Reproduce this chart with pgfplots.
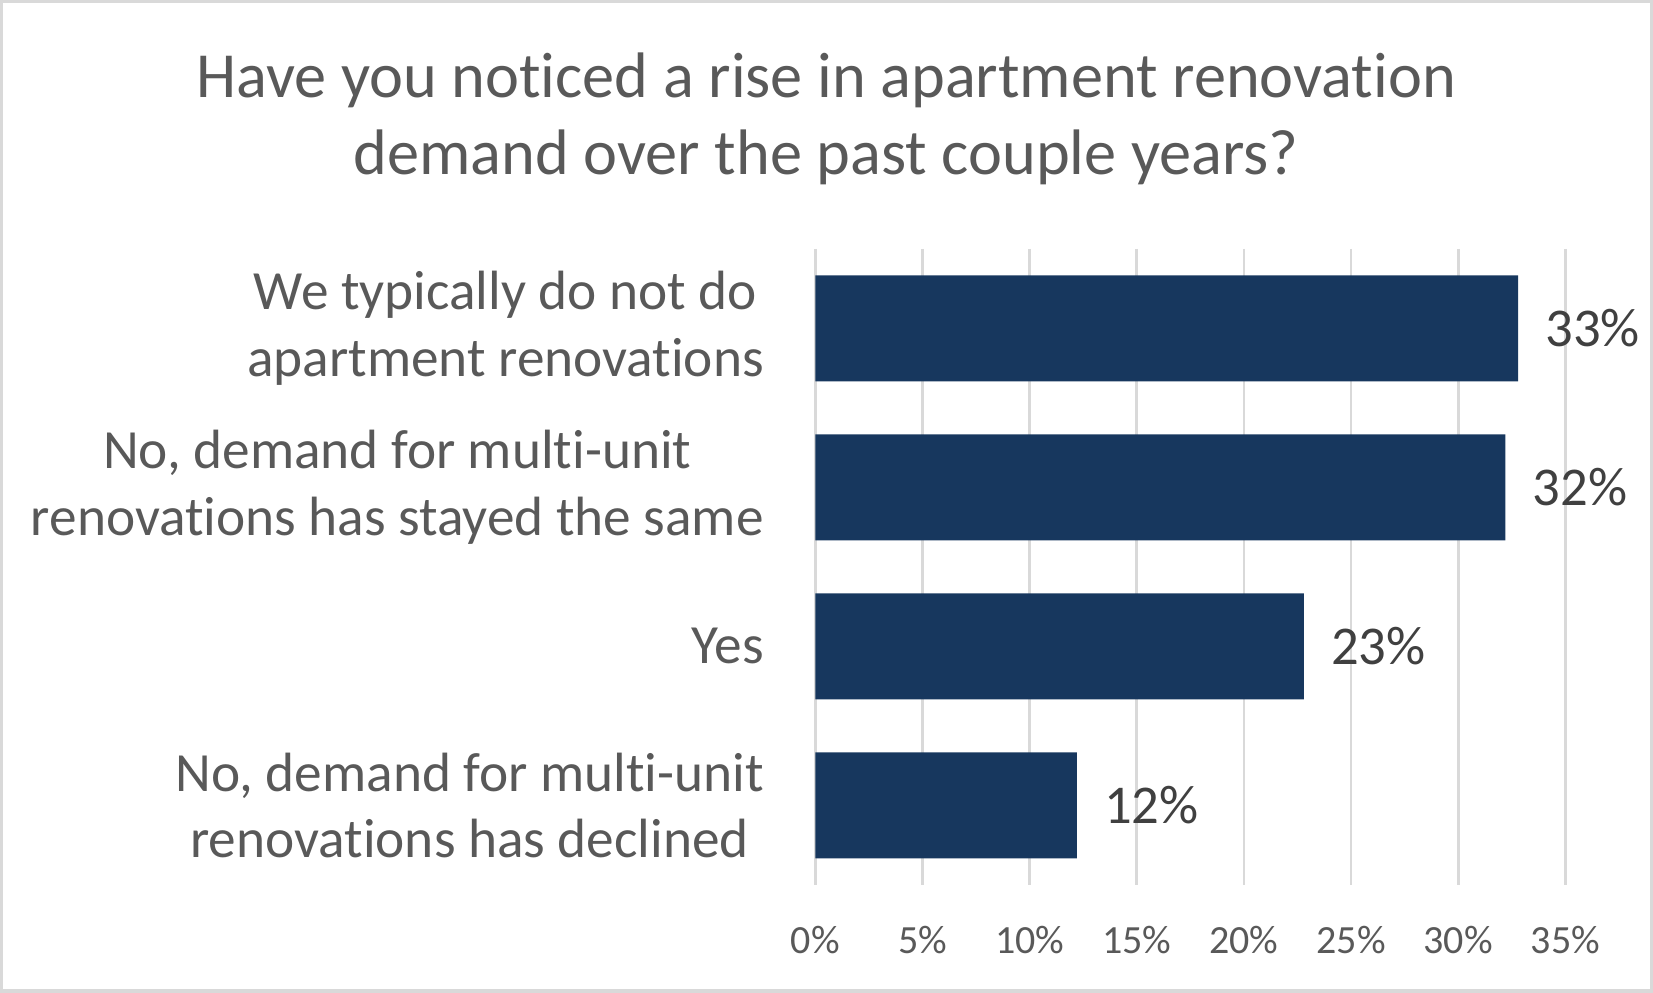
\documentclass[border=0pt]{standalone}
\usepackage{fontspec}
\setmainfont{Carlito}[Ligatures=NoCommon]
\usepackage{pgfplots}
\pgfplotsset{compat=1.18}

\definecolor{barblue}{RGB}{23,55,94}
\definecolor{txtgray}{RGB}{89,89,89}
\definecolor{lblgray}{RGB}{64,64,64}
\definecolor{gridgray}{RGB}{217,217,217}

\begin{document}
\begin{tikzpicture}
\path[use as bounding box] (0,0) rectangle (496pt,297.9pt);
\draw[gridgray, line width=1pt] (0.5pt,0.5pt) rectangle (495.5pt,297.4pt);

% title
\node[font=\fontsize{19.3}{23.2}\selectfont, text=txtgray, align=center]
    at (247.9pt,262.3pt) {Have you noticed a rise in apartment renovation\\demand over the past couple years?};

\begin{axis}[
    at={(244.65pt,32.4pt)}, anchor=south west,
    scale only axis,
    width=225.05pt, height=190.8pt,
    xbar, bar width=31.8pt,
    xmin=0, xmax=35,
    ymin=0.5, ymax=4.5,
    y dir=reverse,
    axis line style={draw=none},
    tick style={draw=none},
    xmajorgrids, grid style={gridgray, line width=0.8pt},
    xtick={0,5,...,35},
    xticklabel={\pgfmathprintnumber{\tick}\%},
    /pgf/number format/assume math mode=true,
    x tick label style={font=\fontsize{12}{14}\selectfont, text=txtgray, inner sep=0pt, yshift=-12.2pt},
    ytick={1,2,3,4},
    yticklabels={
        {We typically do not do\\apartment renovations},
        {No, demand for multi-unit\\renovations has stayed the same},
        {Yes},
        {No, demand for multi-unit\\renovations has declined}},
    y tick label style={font=\fontsize{16.6}{20}\selectfont, text=txtgray, align=center, anchor=east, inner sep=0pt, xshift=-11pt},
    nodes near coords={\pgfmathprintnumber[fixed,precision=0]{\pgfplotspointmeta}\%},
    every node near coord/.append style={font=\fontsize{16.4}{19.5}\selectfont, text=lblgray, anchor=west, inner sep=0pt, xshift=8pt},
]
\addplot[fill=barblue, draw=none] coordinates {
    (32.8,1) (32.2,2) (22.8,3) (12.2,4)
};
\end{axis}
\end{tikzpicture}
\end{document}
